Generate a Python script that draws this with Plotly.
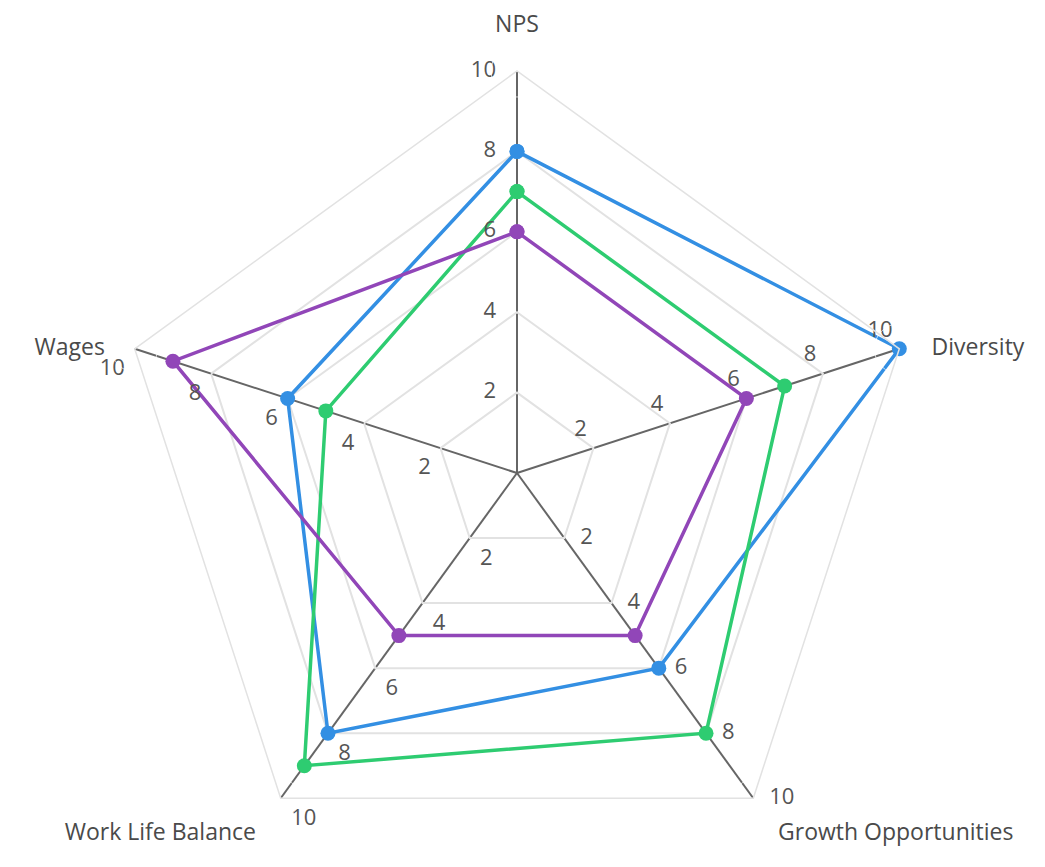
import plotly.graph_objects as go

categories = ["NPS", "Diversity", "Growth Opportunities", "Work Life Balance", "Wages"]
blue_values = [8, 10, 6, 8, 6]
green_values = [7, 7, 8, 9, 5]
purple_values = [6, 6, 5, 5, 9]
tick_values = [0, 2, 4, 6, 8, 10]
tick_labels = ["0", "2", "4", "6", "8", "10"]
axis_max = 10

series = [
    ("Blue", blue_values, "#338fe3"),
    ("Green", green_values, "#2ecc71"),
    ("Purple", purple_values, "#9146b8"),
]

# placement style of the tick labels along each spoke (position, offset marker size)
tick_label_style = {
    "NPS": ("middle left", 32),
    "Diversity": ("top left", 9),
    "Growth Opportunities": ("middle right", 24),
    "Work Life Balance": ("bottom right", 15),
    "Wages": ("bottom left", 14),
}
# placement style of the category labels
cat_label_style = {
    "NPS": ("top center", 52),
    "Diversity": ("middle right", 50),
    "Growth Opportunities": ("bottom right", 38),
    "Work Life Balance": ("bottom left", 38),
    "Wages": ("middle left", 46),
}

TEXT_FONT = "Open Sans"
fig = go.Figure()

for name, vals, color in series:
    fig.add_trace(go.Scatterpolar(
        r=vals + [vals[0]],
        theta=categories + [categories[0]],
        mode="lines+markers",
        name=name,
        line=dict(color=color, width=3.5),
        marker=dict(color=color, size=15),
        cliponaxis=False,
        showlegend=False,
    ))

for cat in categories:
    pos, msize = tick_label_style[cat]
    fig.add_trace(go.Scatterpolar(
        r=tick_values,
        theta=[cat] * len(tick_values),
        mode="markers+text",
        text=tick_labels,
        textposition=pos,
        textfont=dict(family=TEXT_FONT, size=22, color="#555555"),
        marker=dict(size=msize, color="rgba(0,0,0,0)"),
        cliponaxis=False,
        showlegend=False,
        hoverinfo="skip",
    ))

fig.add_trace(go.Scatterpolar(
    r=[axis_max] * len(categories),
    theta=categories,
    mode="markers+text",
    text=categories,
    textposition=[cat_label_style[c][0] for c in categories],
    textfont=dict(family=TEXT_FONT, size=23, color="#4a4a4a"),
    marker=dict(size=[cat_label_style[c][1] for c in categories], color="rgba(0,0,0,0)"),
    cliponaxis=False,
    showlegend=False,
    hoverinfo="skip",
))

fig.update_layout(
    width=1045,
    height=867,
    paper_bgcolor="white",
    plot_bgcolor="white",
    margin=dict(l=107, r=134, t=63, b=0),
    showlegend=False,
    polar=dict(
        bgcolor="rgba(0,0,0,0)",
        gridshape="linear",
        radialaxis=dict(
            range=[0, axis_max],
            tickvals=tick_values,
            showticklabels=False,
            ticks="",
            showline=False,
            showgrid=True,
            gridcolor="#e2e2e2",
            gridwidth=1.5,
        ),
        angularaxis=dict(
            rotation=90,
            direction="clockwise",
            categoryorder="array",
            categoryarray=categories,
            gridcolor="#666666",
            gridwidth=2,
            showline=True,
            linecolor="#e2e2e2",
            linewidth=1.5,
            ticks="",
            showticklabels=False,
        ),
    ),
)

fig.write_html("out.html")
